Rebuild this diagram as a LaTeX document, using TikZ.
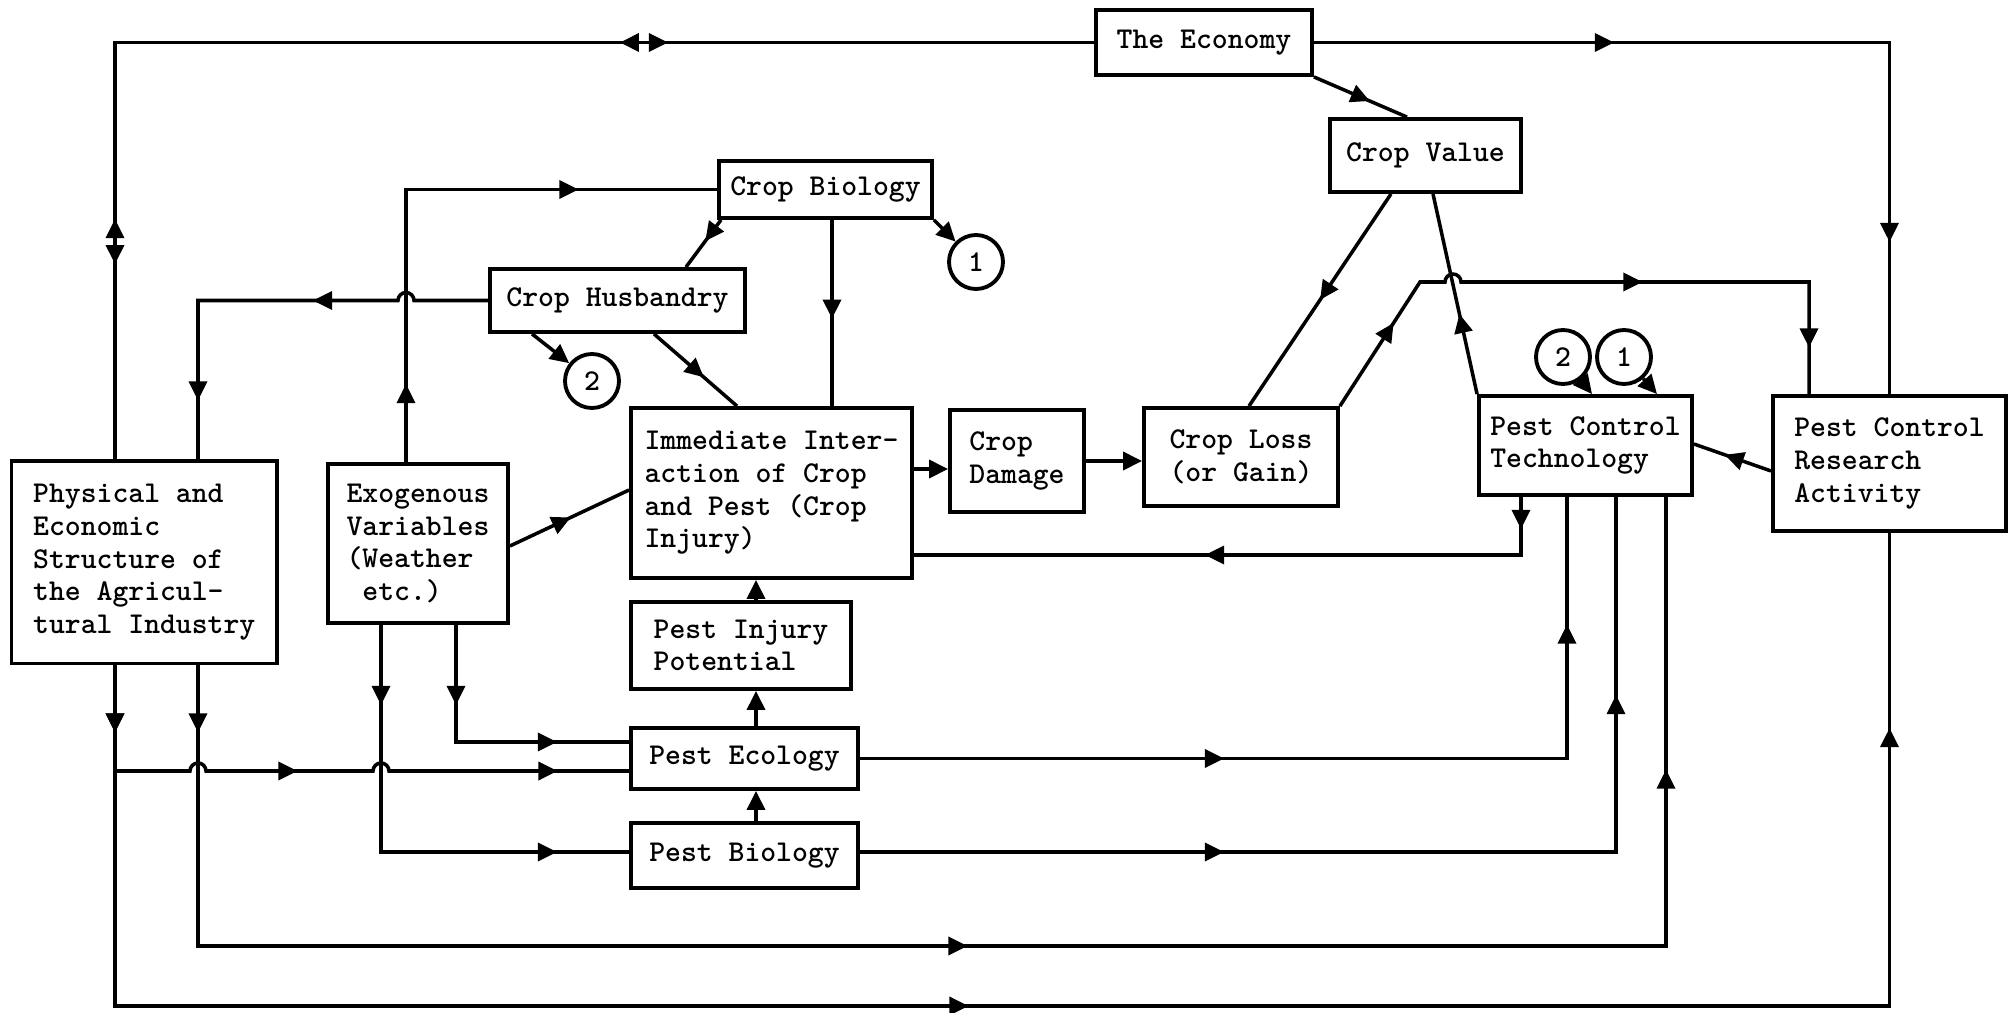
\documentclass[tikz,border=0pt]{standalone}
\usepackage{fontspec}
\usetikzlibrary{arrows.meta,decorations.markings}

\begin{document}
\begin{tikzpicture}[>={Triangle[length=1.9mm,width=1.8mm]},
  box/.style={draw, line width=1.1pt, align=left, inner sep=0pt, font=\ttfamily\bfseries\fontsize{8.6pt}{9.3pt}\selectfont},
  ring/.style={circle, draw, line width=1.1pt, minimum size=0.54cm, inner sep=0pt, font=\ttfamily\bfseries\fontsize{8.6pt}{9.3pt}\selectfont},
  link/.style={line width=1pt},
  midtip/.style={postaction={decorate, decoration={markings, mark=at position #1 with {\arrow{>}}}}},
  backtip/.style={postaction={decorate, decoration={markings, mark=at position #1 with {\arrowreversed{>}}}}}]

% Page frame
\fill[white] (0,0) rectangle (20.14,-10.13);
\useasboundingbox (0,0) rectangle (20.14,-10.13);

% Boxes
\node[box, minimum width=2.16cm, minimum height=0.65cm] (econ) at (12.04,-0.425) {The Economy};
\node[box, minimum width=1.91cm, minimum height=0.73cm] (value) at (14.255,-1.555) {Crop Value};
\node[box, minimum width=2.13cm, minimum height=0.57cm] (cbio) at (8.255,-1.895) {Crop Biology};
\node[box, minimum width=2.55cm, minimum height=0.63cm] (husb) at (6.175,-3.005) {Crop Husbandry};
\node[box, minimum width=2.81cm, minimum height=1.70cm] (imm) at (7.715,-4.93) {Immediate Inter-\\action of Crop\\and Pest (Crop\\Injury)};
\node[box, minimum width=1.34cm, minimum height=1.02cm] (dmg) at (10.17,-4.61) {Crop\\Damage};
\node[box, minimum width=1.94cm, minimum height=0.98cm] (loss) at (12.41,-4.57) {Crop Loss\\(or Gain)};
\node[box, minimum width=2.13cm, minimum height=0.99cm] (pct) at (15.855,-4.455) {Pest Control\\Technology};
\node[box, minimum width=2.33cm, minimum height=1.35cm] (pcra) at (18.895,-4.635) {Pest Control\\Research\\Activity};
\node[box, minimum width=2.655cm, minimum height=2.025cm] (phys) at (1.4425,-5.6225) {Physical and\\Economic\\Structure of\\the Agricul-\\tural Industry};
\node[box, minimum width=1.80cm, minimum height=1.59cm] (exo) at (4.18,-5.435) {Exogenous\\Variables\\(Weather\\\phantom{(}etc.)};
\node[box, minimum width=2.20cm, minimum height=0.87cm] (pip) at (7.41,-6.455) {Pest Injury\\Potential};
\node[box, minimum width=2.27cm, minimum height=0.61cm] (peco) at (7.445,-7.585) {Pest Ecology};
\node[box, minimum width=2.27cm, minimum height=0.65cm] (pbio) at (7.445,-8.555) {Pest Biology};

% Circled references
\node[ring] (c1) at (9.76,-2.62) {1};
\node[ring] (c2) at (5.92,-3.81) {2};
\node[ring] (tc2) at (15.63,-3.57) {2};
\node[ring] (tc1) at (16.24,-3.57) {1};

% Economy links
\draw[link, midtip=2.40cm, backtip=1.95cm, backtip=9.215cm, midtip=9.695cm] (1.15,0 |- phys.north) |- (econ.west);
\draw[link, midtip=3.0cm, midtip=7.75cm] (econ.east) -| (pcra.north);
\draw[link, midtip=0.6] (econ.south east) -- ([xshift=-0.185cm]value.north);

% Crop value, loss and damage
\draw[link, midtip=0.5] ([xshift=-0.345cm]value.south) -- ([xshift=0.08cm]loss.north);
\draw[link, midtip=0.99cm, midtip=3.79cm, midtip=6.11cm] (loss.north east) -- (14.20,-2.82) -- (14.45,-2.82)
  arc[start angle=180, end angle=0, radius=0.08] -- (18.09,-2.82) -- (18.09,0 |- pcra.north);
\draw[link, midtip=0.4] (pct.north west) -- ([xshift=0.075cm]value.south);
\draw[link, ->] (0,-4.69 -| imm.east) -- (0,-4.69 -| dmg.west);
\draw[link, ->] (dmg.east) -- (dmg.east -| loss.west);

% Pest control
\draw[link, midtip=0.6] ([yshift=-0.075cm]pcra.west) -- ([yshift=0.015cm]pct.east);
\draw[link, ->] (tc2) -- (15.92,0 |- pct.north);
\draw[link, ->] (tc1) -- (16.57,0 |- pct.north);
\draw[link, midtip=0.32cm, midtip=3.74cm] (15.21,0 |- pct.south) |- (imm.east |- 0,-5.55);

% Crop biology and husbandry
\draw[link, ->] (cbio.south east) -- (c1);
\draw[link, ->] (5.32,0 |- husb.south) -- (c2);
\draw[link, midtip=0.45] (7.21,0 |- cbio.south) -- (6.86,0 |- husb.north);
\draw[link, midtip=0.53] (8.32,0 |- cbio.south) -- (8.32,0 |- imm.north);
\draw[link, midtip=0.6] (6.54,0 |- husb.south) -- (7.37,0 |- imm.north);
\draw[link, midtip=0.78cm, midtip=4.45cm] (4.06,0 |- exo.north) |- (cbio.west);
\draw[link, midtip=1.84cm, midtip=3.99cm] (husb.west) -- (4.14,-3.005)
  arc[start angle=0, end angle=180, radius=0.08] -- (1.98,-3.005) -- (1.98,0 |- phys.north);

% Exogenous variables
\draw[link, midtip=0.51] (exo.east |- 0,-5.46) -- (imm.west |- 0,-4.90);
\draw[link, midtip=0.8cm, midtip=2.18cm] (4.56,0 |- exo.south) |- (peco.west |- 0,-7.42);
\draw[link, midtip=0.8cm, midtip=4.03cm] (3.81,0 |- exo.south) |- (pbio.west |- 0,-8.52);

% Pest chain
\draw[link, ->] (7.56,0 |- pip.north) -- (7.56,0 |- imm.south);
\draw[link, ->] (7.56,0 |- peco.north) -- (7.56,0 |- pip.south);
\draw[link, ->] (7.56,0 |- pbio.north) -- (7.56,0 |- peco.south);
\draw[link, midtip=3.64cm, midtip=8.41cm] (peco.east) -| (15.67,0 |- pct.south);
\draw[link, midtip=3.64cm, midtip=9.13cm] (pbio.east |- 0,-8.52) -| (16.16,0 |- pct.south);

% Physical structure outputs
\draw[link, midtip=0.67cm, midtip=2.97cm, midtip=5.66cm] (1.15,0 |- phys.south) -- (1.15,-7.71) -- (1.90,-7.71)
  arc[start angle=180, end angle=0, radius=0.08] -- (3.73,-7.71)
  arc[start angle=180, end angle=0, radius=0.08] -- (peco.west |- 0,-7.71);
\draw[link, midtip=0.67cm, midtip=11.94cm, midtip=23.93cm] (1.15,0 |- phys.south) |- (18.895,-10.06) -- (pcra.south);
\draw[link, midtip=0.67cm, midtip=10.5cm, midtip=19.25cm] (1.98,0 |- phys.south) |- (16.66,-9.46) -- (16.66,0 |- pct.south);

\end{tikzpicture}
\end{document}
